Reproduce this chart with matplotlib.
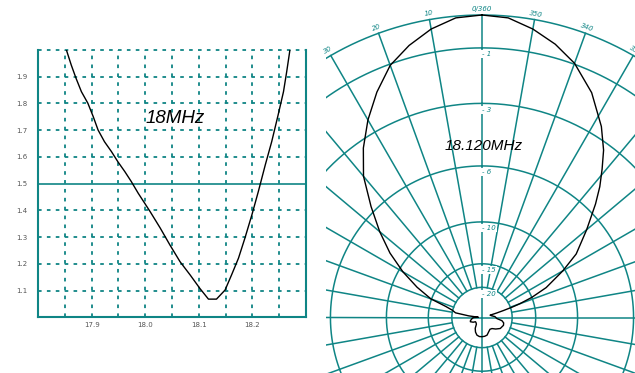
import numpy as np
import matplotlib
matplotlib.use('Agg')
import matplotlib.pyplot as plt
from matplotlib.patches import Rectangle

plt.rcParams['lines.scale_dashes'] = False

TEAL = '#0f8585'
GRAY = '#555555'
NARROW = ['Liberation Sans Narrow', 'Liberation Sans', 'DejaVu Sans']

# --- SWR sweep (left panel) ---
freq = [17.853, 17.862, 17.871, 17.881, 17.893, 17.903, 17.912, 17.924, 17.937, 17.949,
        17.962, 17.974, 17.987, 18.009, 18.028, 18.046, 18.065, 18.084, 18.102, 18.118,
        18.133, 18.149, 18.161, 18.174, 18.186, 18.199, 18.211, 18.224, 18.236, 18.248,
        18.258, 18.264, 18.270]
swr = [2.0, 1.944, 1.894, 1.844, 1.801, 1.751, 1.701, 1.657, 1.620, 1.582,
       1.545, 1.508, 1.464, 1.396, 1.334, 1.271, 1.208, 1.158, 1.108, 1.068,
       1.068, 1.102, 1.158, 1.221, 1.296, 1.383, 1.470, 1.570, 1.657, 1.757,
       1.844, 1.919, 2.0]
swr_ticks = [1.1, 1.2, 1.3, 1.4, 1.5, 1.6, 1.7, 1.8, 1.9]
swr_grid = [1.1, 1.2, 1.3, 1.4, 1.6, 1.7, 1.8, 1.9, 2.0]
swr_ref = 1.5
freq_ticks = [17.9, 18.0, 18.1, 18.2]
freq_grid = [17.85, 17.9, 17.95, 18.0, 18.05, 18.1, 18.15, 18.2, 18.25]

# --- radiation pattern (right panel), azimuth in degrees, gain in dB ---
az_deg = [0, 5, 10, 15, 20, 25, 30, 35, 40, 45, 50, 55, 60, 65, 70, 73, 76, 80, 83, 86,
          90, 96, 105, 110, 118, 123, 132, 140, 148, 156, 164, 172, 180, 188, 196, 205,
          214, 222, 230, 239, 250, 256, 261, 266, 274, 280, 286, 287, 288, 289, 290,
          292, 295, 300, 304, 310, 315, 318, 321, 324, 328, 334, 340, 345, 350, 355, 360]
gain_db = [0, -0.05, -0.28, -0.62, -1.04, -1.7, -2.45, -3.3, -4.3, -5.7,
           -7.1, -8.6, -10.4, -12.5, -14.9, -18.0, -19.8, -21.0, -27, -38,
           -31, -29.6, -28.0, -27.7, -29.5, -31.7, -31.5, -30.7, -27.4, -25.5,
           -24.3, -23.9, -23.9, -24.0, -24.3, -25.6, -26.5, -26.1, -24.5, -23.0,
           -22.4, -22.6, -23.5, -26.1, -27.3, -29.7, -31, -26, -22.5, -19.5,
           -17.5, -15.0, -12.6, -10.2, -8.5, -6.9, -5.5, -4.7, -4.0, -3.3,
           -2.56, -1.65, -0.97, -0.58, -0.28, -0.05, 0]
ring_db = [0, -1, -3, -6, -10, -15, -20]
ring_labels = ['', '1', '3', '6', '10', '15', '20']
az_ticks = [30, 20, 10, 0, 350, 340, 330]
az_labels = ['30', '20', '10', '0/360', '350', '340', '330']

W, H = 635, 373
fig = plt.figure(figsize=(W / 100, H / 100), dpi=100)

# polar chart, centre at (482, 317.5) px, outer ring radius 302.5 px
cx, cy, R = 482, 317.5, 302.5
pax = fig.add_axes([(cx - R) / W, (H - cy - R) / H, 2 * R / W, 2 * R / H],
                   projection='polar', zorder=0)
pax.set_theta_zero_location('N')
pax.set_rscale('function', functions=(lambda d: 10 ** (np.asarray(d) / 20.0),
                                      lambda v: 20 * np.log10(np.asarray(v))))
pax.set_ylim(-70, 0)
pax.set_xticks([])
pax.set_yticks([])
pax.grid(False)
pax.spines['polar'].set_visible(False)
pax.patch.set_visible(False)

clip = Rectangle((326 / W, 0), 1, 1, transform=fig.transFigure)
drawn = []
th = np.linspace(0, 2 * np.pi, 721)
for d in ring_db:
    drawn += pax.plot(th, np.full_like(th, d), color=TEAL, lw=1.1)
for a in range(0, 360, 10):
    r0 = -70 if a % 90 == 0 else -20
    drawn += pax.plot([np.radians(a)] * 2, [r0, 0], color=TEAL, lw=1.1)
drawn += pax.plot(np.radians(az_deg), gain_db, color='black', lw=1.0, zorder=5)
for art in drawn:
    art.set_clip_path(clip)

for a, lab in zip(az_ticks, az_labels):
    rot = a if a <= 180 else a - 360
    pax.text(np.radians(a), 0.17, lab, rotation=rot, rotation_mode='anchor',
             ha='center', va='center', fontsize=5, style='italic', color=TEAL)
for d, lab in zip(ring_db, ring_labels):
    if not lab:
        continue
    pax.annotate('- ' + lab, xy=(0, d), xytext=(0.3, -4.5), textcoords='offset points',
                 ha='left', va='center', fontsize=5, style='italic', color=TEAL,
                 bbox=dict(boxstyle='square,pad=0.15', fc='white', ec='none'), zorder=6)
fig.text(484 / W, 1 - 146.5 / H, '18.120MHz', ha='center', va='center',
         fontsize=11, style='italic', family=NARROW, zorder=3)

# SWR chart
ax = fig.add_axes([38 / W, (H - 317.3) / H, 268 / W, 267.3 / H], zorder=2)
ax.set_xlim(17.8, 18.3)
ax.set_ylim(1.0, 2.0)
for y in swr_grid:
    ax.axhline(y, color=TEAL, lw=1.3, ls=(0, (2.6, 3.8)), clip_on=False)
for x in freq_grid:
    ax.axvline(x, color=TEAL, lw=1.3, ls=(0, (2.6, 3.8)))
ax.axhline(swr_ref, color=TEAL, lw=1.2)
ax.plot(freq, swr, color='black', lw=1.0)

ax.spines['top'].set_visible(False)
for s in ['left', 'right', 'bottom']:
    ax.spines[s].set_color(TEAL)
    ax.spines[s].set_linewidth(1.5)
ax.set_yticks(swr_ticks)
ax.set_yticklabels([f'{v:.1f}' for v in swr_ticks])
ax.set_xticks(freq_ticks)
ax.set_xticklabels([f'{v:.1f}' for v in freq_ticks])
ax.tick_params(axis='y', length=0, labelsize=5, labelcolor=GRAY, pad=7.7)
ax.tick_params(axis='x', length=0, labelsize=5, labelcolor=GRAY, pad=3.4)
ax.text(18.0556, 1.7445, '18MHz', ha='center', va='center', fontsize=13.5,
        style='italic', family=NARROW)

fig.savefig('out.png', dpi=100)
